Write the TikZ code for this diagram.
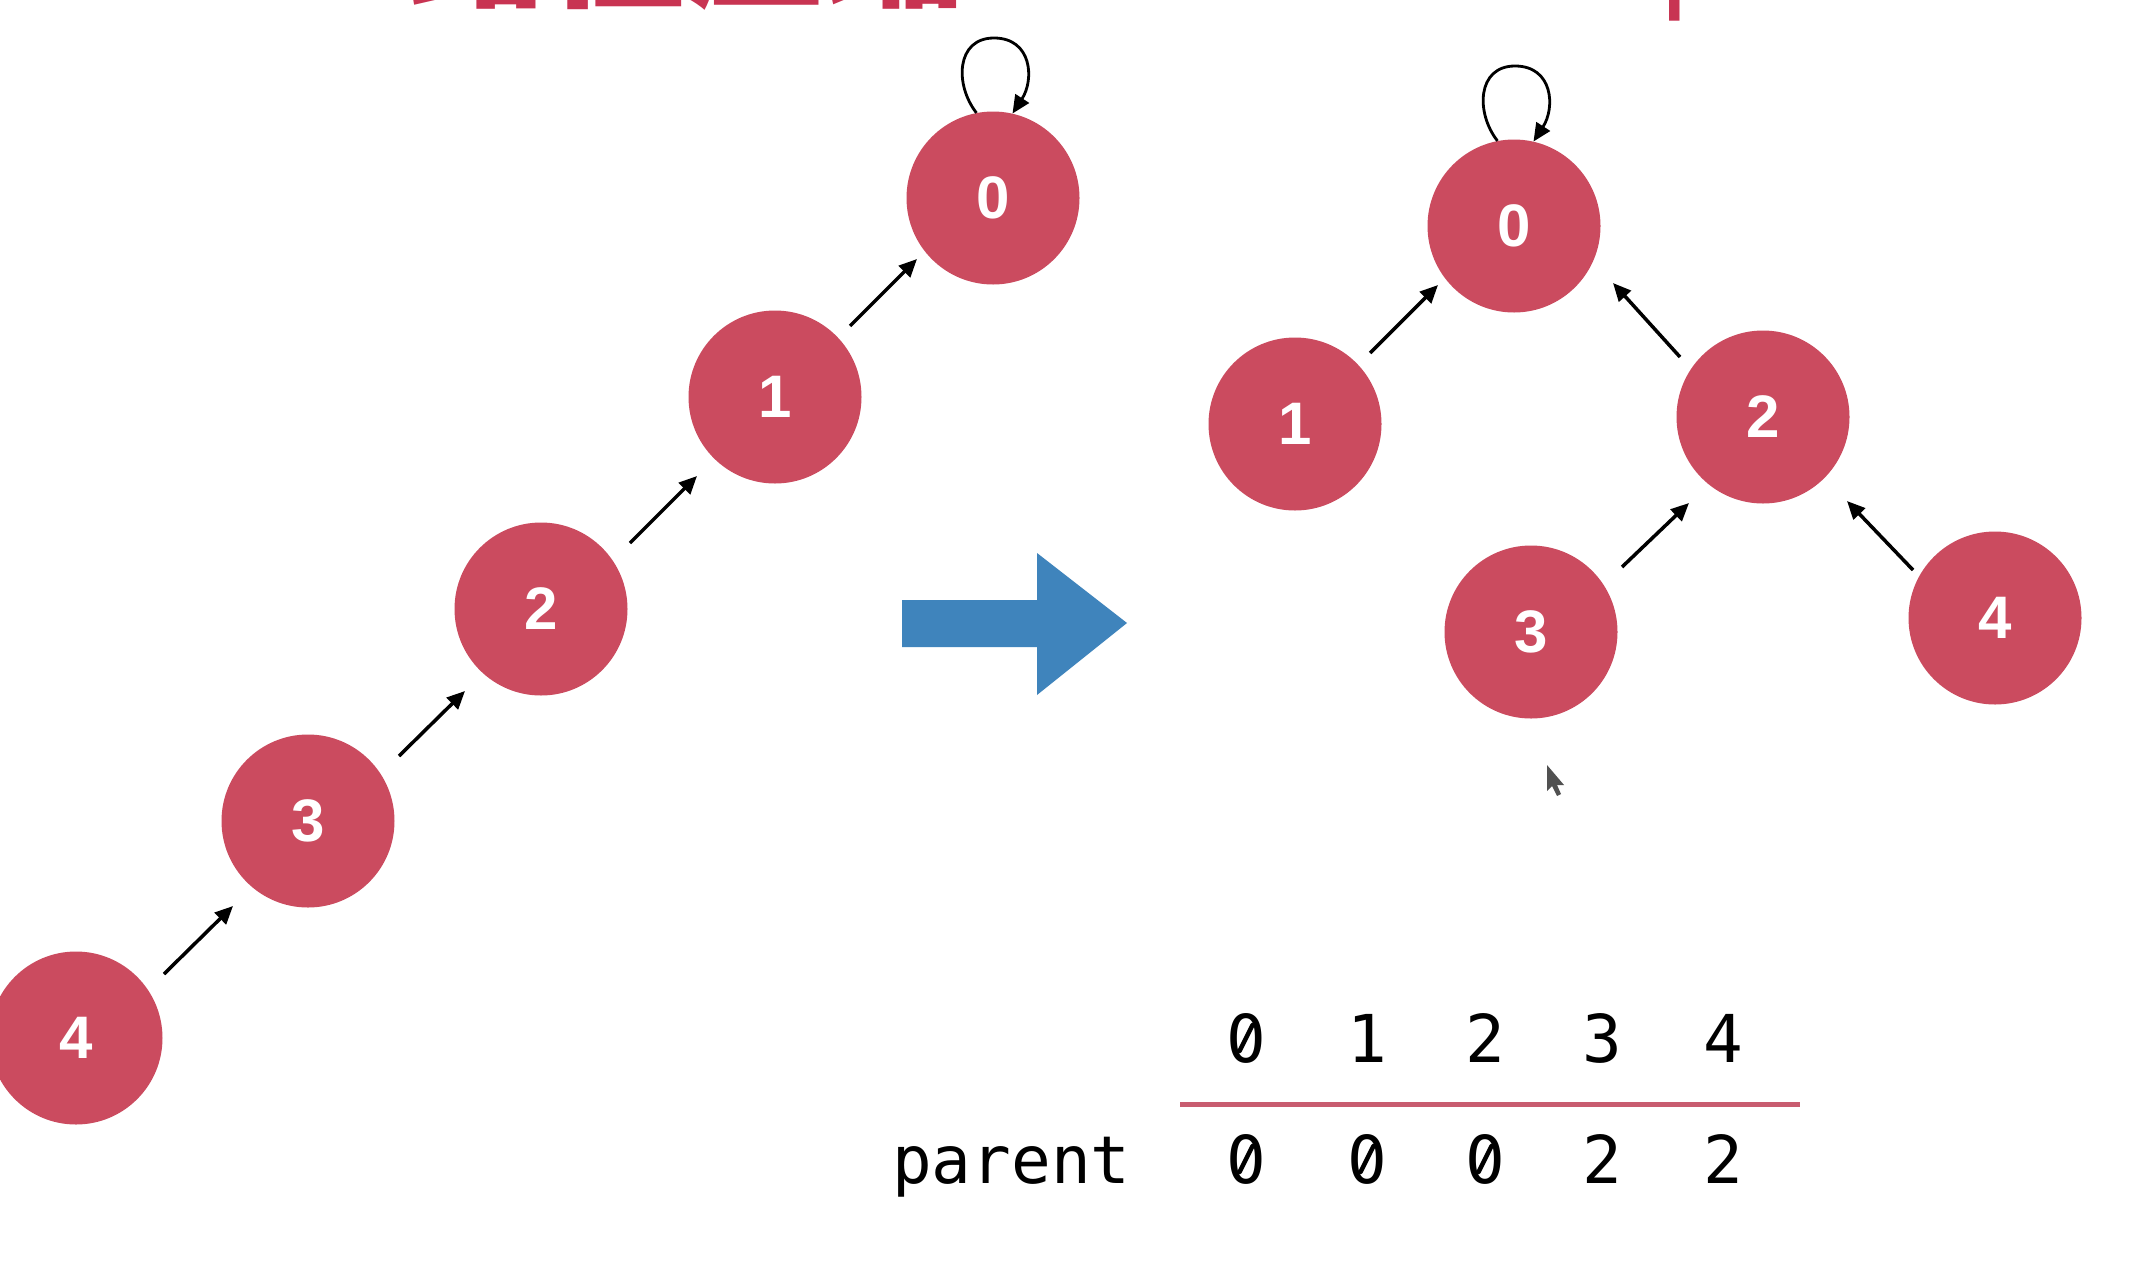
\documentclass[tikz,border=0pt]{standalone}
\usepackage{fontspec}
\setmainfont{Liberation Sans}
\newfontfamily\cjkfont{Noto Sans CJK SC}
\newfontfamily\codefont{DejaVu Sans Mono}
\usetikzlibrary{arrows.meta}

\definecolor{nodered}{RGB}{203,75,95}
\definecolor{titlered}{RGB}{200,52,82}
\definecolor{rulered}{RGB}{200,92,112}
\definecolor{arrowblue}{RGB}{63,132,188}

\tikzset{
  uf/.style={circle, fill=nodered, draw=none, minimum size=173pt, inner sep=0pt,
    text=white, font=\bfseries\fontsize{60}{60}\selectfont},
  conn/.style={draw=black, line width=3.5pt, -{Triangle[length=18pt,width=16pt]}},
  cell/.style={anchor=base, inner sep=0pt, font=\codefont\fontsize{66}{66}\selectfont},
  % a zero with a slash through it instead of a dot
  zero/.pic={
    \node[cell] (-d) at (0,0) {0};
    \fill[white] (0,-24) ellipse [x radius=6.5, y radius=11];
    \draw[line width=4.5pt, line cap=round] (-6.5,-11) -- (6.5,-37);
  },
}

% self-loop above a node, entering it from the upper right
\newcommand{\selfloop}[1]{%
  \draw[conn, line width=2.8pt] (#1.101) .. controls +(-22,-28) and +(-38,0) ..
    ([shift={(1,-160)}]#1.center) .. controls +(38,0) and +(22,-34) .. (#1.77);}

\begin{document}
\begin{tikzpicture}[x=1pt,y=-1pt]
\useasboundingbox (0,0) rectangle (2146,1264);
\fill[white] (0,0) rectangle (2146,1264);

% heading, mostly above the frame
\begin{scope}
  \clip (0,0) rectangle (2146,1264);
  \node[anchor=base west, inner sep=0pt, text=titlered,
        font=\cjkfont\bfseries\fontsize{139}{139}\selectfont] (titlecn) at (408,-4) {路径压缩};
  \node[anchor=base west, inner sep=0pt, text=titlered,
        font=\fontsize{119}{119}\selectfont] (titleen) at (1132,-4) {Path Compression};
\end{scope}

% before: a chain 4 -> 3 -> 2 -> 1 -> 0
\node[uf] (l0) at (993,198) {0};
\node[uf] (l1) at (775,397) {1};
\node[uf] (l2) at (541,609) {2};
\node[uf] (l3) at (308,821) {3};
\node[uf] (l4) at (76,1038) {4};

\draw[conn] ([shift={(88,-64)}]l4.center) -- ([shift={(-75,85)}]l3.center);
\draw[conn] ([shift={(91,-65)}]l3.center) -- ([shift={(-76,82)}]l2.center);
\draw[conn] ([shift={(89,-66)}]l2.center) -- ([shift={(-78,79)}]l1.center);
\draw[conn] ([shift={(75,-71)}]l1.center) -- ([shift={(-76,61)}]l0.center);
\selfloop{l0}

% transformation arrow
\fill[arrowblue] (902,600) -- (1037,600) -- (1037,553) -- (1127,623)
  -- (1037,695) -- (1037,647) -- (902,647) -- cycle;

% after: a shallower tree
\node[uf] (r0) at (1514,226) {0};
\node[uf] (r1) at (1295,424) {1};
\node[uf] (r2) at (1763,417) {2};
\node[uf] (r3) at (1531,632) {3};
\node[uf] (r4) at (1995,618) {4};

\draw[conn] ([shift={(75,-71)}]r1.center) -- ([shift={(-76,59)}]r0.center);
\draw[conn] ([shift={(-83,-60)}]r2.center) -- ([shift={(99,57)}]r0.center);
\draw[conn] ([shift={(91,-65)}]r3.center) -- ([shift={(-74,86)}]r2.center);
\draw[conn] ([shift={(-82,-48)}]r4.center) -- ([shift={(84,84)}]r2.center);
\selfloop{r0}

% mouse pointer
\fill[black!85, opacity=0.8] (1547,765) -- (1547,791) -- (1552,786) -- (1557,796)
  -- (1561,794) -- (1557,785) -- (1564,785) -- cycle;

% parent array
\pic (i0) at (1246,1062) {zero};
\node[cell] (i1) at (1367,1062) {1};
\node[cell] (i2) at (1485,1062) {2};
\node[cell] (i3) at (1602,1062) {3};
\node[cell] (i4) at (1723,1062) {4};
\draw[rulered, line width=5pt] (1180,1104) -- (1800,1104);
\node[cell, anchor=base west] (plabel) at (892,1183) {parent};
\pic (p0) at (1246,1183) {zero};
\pic (p1) at (1367,1183) {zero};
\pic (p2) at (1485,1183) {zero};
\node[cell] (p3) at (1602,1183) {2};
\node[cell] (p4) at (1723,1183) {2};
\end{tikzpicture}
\end{document}
